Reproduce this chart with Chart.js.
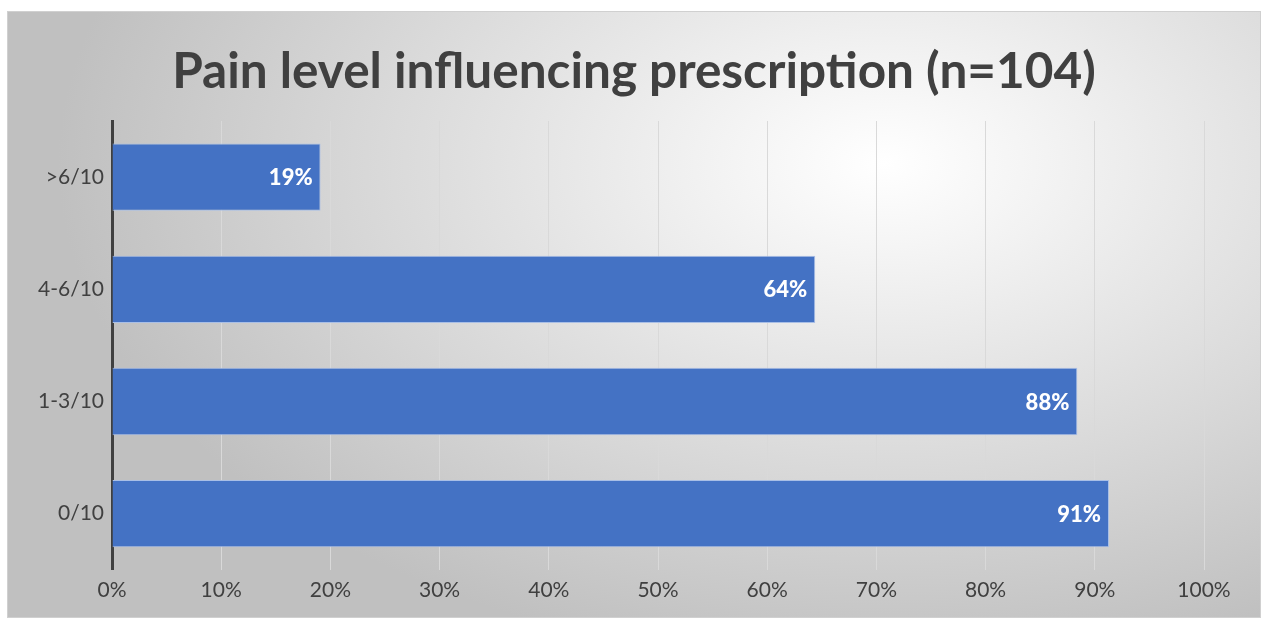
<!DOCTYPE html>
<html>
<head>
<meta charset="utf-8">
<script src="https://cdn.jsdelivr.net/npm/chart.js@4"></script>
<style>
  body { margin: 0; background: #ffffff; }
  #frame {
    position: absolute; left: 7px; top: 11px; width: 1252px; height: 605px;
    border: 1px solid #d0d0d0;
    background: radial-gradient(ellipse 75% 95% at 70% 25%, #ffffff 0%, #f4f4f4 16%, #d6d6d6 58%, #c0c0c0 88%);
  }
  canvas { display: block; }
</style>
</head>
<body>
<div id="frame"><canvas id="painChart"></canvas></div>
<script>
// Data
const categories = ['>6/10', '4-6/10', '1-3/10', '0/10'];
const percentValues = [19.1, 64.4, 88.4, 91.3];
const tickStep = 10;
const chartTitle = 'Pain level influencing prescription (n=104)';

// draws the white % labels inside the bar ends
const barLabels = {
    id: 'barLabels',
    afterDatasetsDraw(chart) {
        const ctx = chart.ctx;
        const meta = chart.getDatasetMeta(0);
        ctx.save();
        ctx.font = '900 22px Lato, "Open Sans", sans-serif';
        ctx.fillStyle = '#ffffff';
        ctx.textAlign = 'right';
        ctx.textBaseline = 'middle';
        meta.data.forEach((bar, i) => {
            ctx.fillText(Math.round(percentValues[i]) + '%', bar.x - 8, bar.y + 1);
        });
        ctx.restore();
    }
};

// title is centred on the whole frame, not on the padded box
const frameTitle = {
    id: 'frameTitle',
    afterDraw(chart) {
        const ctx = chart.ctx;
        ctx.save();
        ctx.font = 'bold 49.5px Lato, "Open Sans", sans-serif';
        ctx.fillStyle = '#404040';
        ctx.textAlign = 'center';
        ctx.textBaseline = 'middle';
        ctx.fillText(chartTitle, chart.width / 2, 60);
        ctx.restore();
    }
};

const frame = document.getElementById('frame');
const canvas = document.getElementById('painChart');
canvas.width = frame.clientWidth;
canvas.height = frame.clientHeight;

new Chart(canvas.getContext('2d'), {
    type: 'bar',
    data: {
        labels: categories,
        datasets: [{
            data: percentValues,
            backgroundColor: '#4472c4',
            borderColor: '#a9bfe6',
            borderWidth: 1,
            borderSkipped: 'start',
            barPercentage: 0.6,
            categoryPercentage: 1.0
        }]
    },
    options: {
        indexAxis: 'y',
        responsive: false,
        animation: false,
        layout: { padding: { left: 22, right: 56, top: 109, bottom: 6 } },
        plugins: {
            legend: { display: false },
            tooltip: { enabled: false },
            title: { display: false }
        },
        scales: {
            x: {
                min: 0,
                max: 100,
                ticks: {
                    stepSize: tickStep,
                    color: '#404040',
                    font: { family: 'Lato, "Open Sans", sans-serif', size: 21 },
                    padding: 8,
                    callback: v => v + '%'
                },
                grid: { color: '#d9d9d9', lineWidth: 1, drawTicks: false },
                border: { display: false }
            },
            y: {
                ticks: {
                    color: '#404040',
                    font: { family: 'Lato, "Open Sans", sans-serif', size: 21 },
                    padding: 8
                },
                grid: { display: false, drawTicks: false },
                border: { color: '#404040', width: 3 }
            }
        }
    },
    plugins: [barLabels, frameTitle]
});
</script>
</body>
</html>
